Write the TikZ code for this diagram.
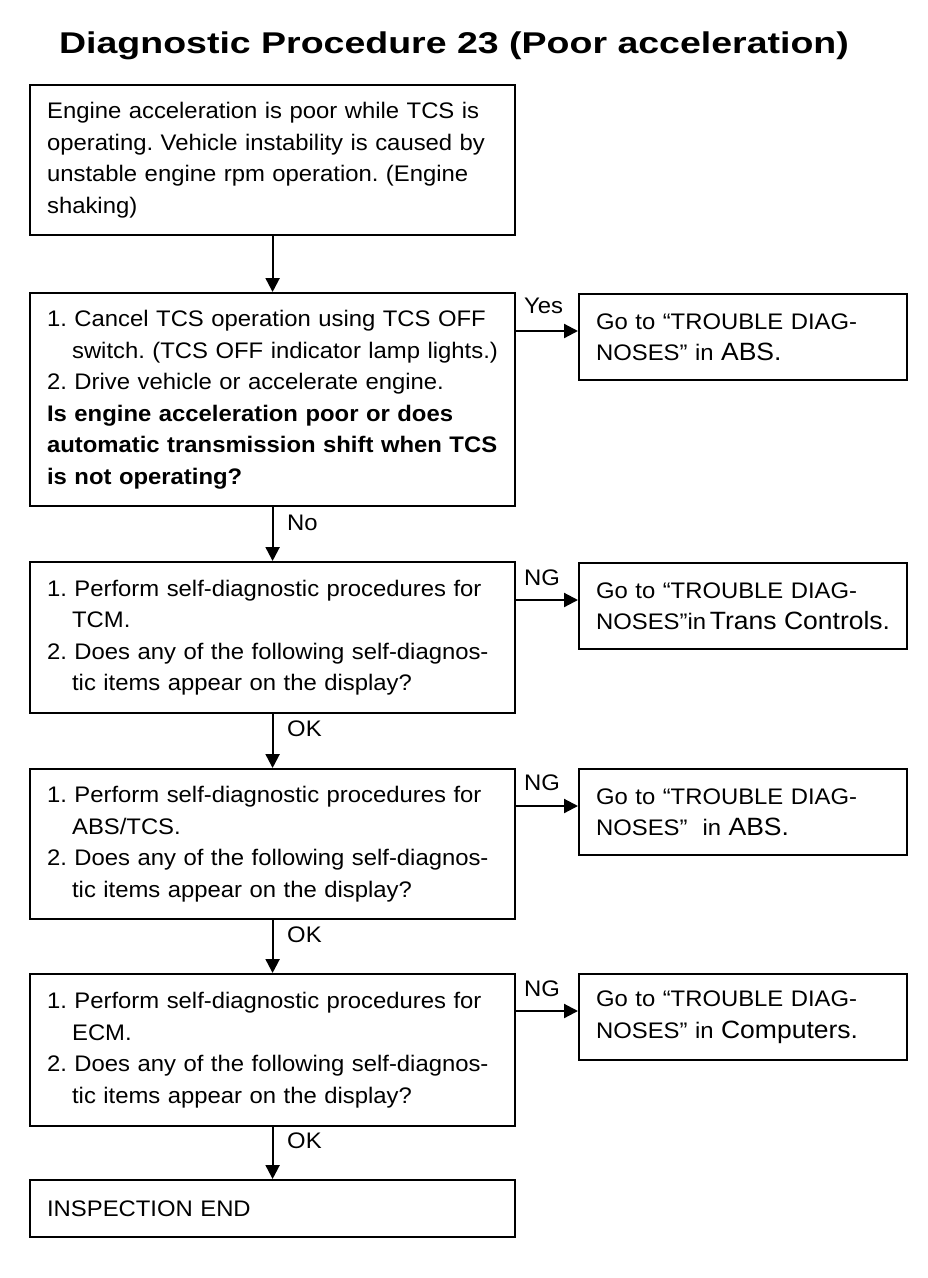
\documentclass[tikz,border=0pt]{standalone}
\usepackage{fontspec}
\setmainfont{Liberation Sans}[FakeStretch=1.06]
\newfontfamily\titlefont{Liberation Sans}[FakeStretch=1.25]
\usetikzlibrary{arrows.meta,calc,positioning}
\newcommand\ind{\hspace*{25pt}}
\newcommand\bigword[1]{{\fontsize{25}{31.5}\selectfont #1}}
\frenchspacing

\begin{document}
\begin{tikzpicture}[x=1pt,y=-1pt,%
  chk/.style={draw=black,line width=2.2pt,anchor=north west,align=left,
    inner xsep=17pt,inner ysep=0pt,text width=451pt,
    font=\fontsize{22.5}{31.5}\selectfont},
  goto/.style={draw=black,line width=2.2pt,anchor=north west,align=left,
    inner xsep=17pt,inner ysep=0pt,text width=294pt,minimum height=86pt,
    font=\fontsize{22.5}{31.5}\selectfont},
  lbl/.style={anchor=west,inner sep=0pt,font=\fontsize{22.5}{27}\selectfont},
  arr/.style={line width=2.2pt,-{Triangle[length=14pt,width=14pt]}}
]
  \useasboundingbox (0,0) rectangle (928,1278);

  \node (title) at (454,53) [anchor=base,inner sep=0pt,
    font=\titlefont\bfseries\fontsize{30}{36}\selectfont]
    {Diagnostic Procedure 23 (Poor acceleration)};

  % main column
  \node (q1) at (29,84) [chk,minimum height=150pt]
    {Engine acceleration is poor while TCS is\\
     operating. Vehicle instability is caused by\\
     unstable engine rpm operation. (Engine\\
     shaking)};
  \node (q2) at (29,292) [chk,minimum height=213pt]
    {1. Cancel TCS operation using TCS OFF\\
     \ind\mbox{switch. (TCS OFF indicator lamp lights.)}\\
     2. Drive vehicle or accelerate engine.\\
     \textbf{Is engine acceleration poor or does}\\
     \mbox{\textbf{automatic transmission shift when TCS}}\\
     \textbf{is not operating?}};
  \node (q3) at (29,561) [chk,minimum height=151pt]
    {1. Perform self-diagnostic procedures for\\
     \ind TCM.\\
     2. Does any of the following self-diagnos-\\
     \ind tic items appear on the display?};
  \node (q4) at (29,768) [chk,minimum height=150pt]
    {1. Perform self-diagnostic procedures for\\
     \ind ABS/TCS.\\
     2. Does any of the following self-diagnos-\\
     \ind tic items appear on the display?};
  \node (q5) at (29,973) [chk,minimum height=152pt]
    {1. Perform self-diagnostic procedures for\\
     \ind ECM.\\
     2. Does any of the following self-diagnos-\\
     \ind tic items appear on the display?};
  \node (done) at (29,1179) [chk,minimum height=57pt]
    {INSPECTION END};

  % side boxes
  \node (r2) at (578,293) [goto]
    {Go to “TROUBLE DIAG-\\ NOSES” in \bigword{ABS.}};
  \node (r3) at (578,562) [goto]
    {Go to “TROUBLE DIAG-\\ \mbox{NOSES”in\,\bigword{Trans Controls.}}};
  \node (r4) at (578,768) [goto]
    {Go to “TROUBLE DIAG-\\ NOSES”\ \ in \bigword{ABS.}};
  \node (r5) at (578,973) [goto]
    {Go to “TROUBLE DIAG-\\ NOSES” in \bigword{Computers.}};

  % vertical flow
  \draw [arr] (q1.south) -- (q2.north);
  \draw [arr] (q2.south) -- (q3.north);
  \draw [arr] (q3.south) -- (q4.north);
  \draw [arr] (q4.south) -- (q5.north);
  \draw [arr] (q5.south) -- (done.north);

  % side branches
  \foreach \r in {r2,r3,r4,r5}
    \coordinate (a\r) at ($(\r.north west)+(0,38)$);
  \draw [arr] (q2.east |- ar2) -- (ar2);
  \draw [arr] (q3.east |- ar3) -- (ar3);
  \draw [arr] (q4.east |- ar4) -- (ar4);
  \draw [arr] (q5.east |- ar5) -- (ar5);

  % labels
  \node (yes) at (524,306) [lbl] {Yes};
  \node (no)  at (287,523) [lbl] {No};
  \node (ng3) at (524,578) [lbl] {NG};
  \node (ok3) at (287,729) [lbl] {OK};
  \node (ng4) at (524,783) [lbl] {NG};
  \node (ok4) at (287,935) [lbl] {OK};
  \node (ng5) at (524,989) [lbl] {NG};
  \node (ok5) at (287,1141) [lbl] {OK};
\end{tikzpicture}
\end{document}
